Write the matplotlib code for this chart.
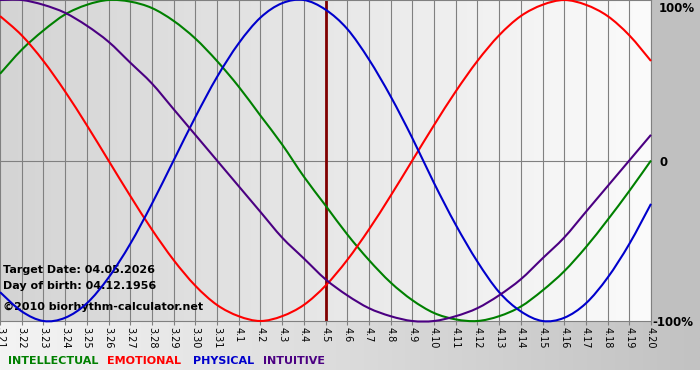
import matplotlib.pyplot as plt
import numpy as np
from matplotlib import font_manager
from matplotlib.colors import LinearSegmentedColormap
from matplotlib.patches import Rectangle, PathPatch
from matplotlib.path import Path

days = ['3.21', '3.22', '3.23', '3.24', '3.25', '3.26', '3.27', '3.28', '3.29', '3.30', '3.31',
        '4.1', '4.2', '4.3', '4.4', '4.5', '4.6', '4.7', '4.8', '4.9', '4.10',
        '4.11', '4.12', '4.13', '4.14', '4.15', '4.16', '4.17', '4.18', '4.19', '4.20']
target_day = '4.5'

physical = [-0.82, -0.94, -1.00, -0.98, -0.89, -0.73, -0.52, -0.27, 0.00, 0.27, 0.52,
            0.73, 0.89, 0.98, 1.00, 0.94, 0.82, 0.63, 0.40, 0.14, -0.14,
            -0.40, -0.63, -0.82, -0.94, -1.00, -0.98, -0.89, -0.73, -0.52, -0.27]
emotional = [0.90, 0.78, 0.62, 0.43, 0.22, 0.00, -0.22, -0.43, -0.62, -0.78, -0.90,
             -0.97, -1.00, -0.97, -0.90, -0.78, -0.62, -0.43, -0.22, 0.00, 0.22,
             0.43, 0.62, 0.78, 0.90, 0.97, 1.00, 0.97, 0.90, 0.78, 0.62]
intellectual = [0.54, 0.69, 0.81, 0.91, 0.97, 1.00, 0.99, 0.95, 0.87, 0.76, 0.62,
                0.46, 0.28, 0.10, -0.10, -0.28, -0.46, -0.62, -0.76, -0.87, -0.95,
                -0.99, -1.00, -0.97, -0.91, -0.81, -0.69, -0.54, -0.37, -0.19, 0.00]
intuitive = [1.00, 1.00, 0.97, 0.92, 0.84, 0.74, 0.61, 0.48, 0.32, 0.16, 0.00,
             -0.16, -0.32, -0.48, -0.61, -0.74, -0.84, -0.92, -0.97, -1.00, -1.00,
             -0.97, -0.92, -0.84, -0.74, -0.61, -0.48, -0.32, -0.16, 0.00, 0.16]

series = [('INTELLECTUAL', intellectual, '#008000'),
          ('EMOTIONAL', emotional, '#ff0000'),
          ('PHYSICAL', physical, '#0000cc'),
          ('INTUITIVE', intuitive, '#4b0082')]

names = {f.name for f in font_manager.fontManager.ttflist}
tick_font = 'Liberation Sans Narrow' if 'Liberation Sans Narrow' in names else 'DejaVu Sans'


def smooth_path(xs, ys):
    # catmull-rom through the points, drawn as cubic bezier segments
    pts = np.column_stack([xs, ys]).astype(float)
    ext = np.vstack([pts[0], pts, pts[-1]])
    verts = [pts[0]]
    codes = [Path.MOVETO]
    for i in range(len(pts) - 1):
        p0, p1, p2, p3 = ext[i], ext[i + 1], ext[i + 2], ext[i + 3]
        verts += [p1 + (p2 - p0) / 6, p2 - (p3 - p1) / 6, p2]
        codes += [Path.CURVE4] * 3
    return Path(verts, codes)


W, H = 700, 380
fig = plt.figure(figsize=(7, 3.8), dpi=100)
fig.patch.set_facecolor('white')

# background: grey band under the plot and grey column on the right
bg = fig.add_axes([0, 0, 1, 1], zorder=-1)
bg.set_xlim(0, W)
bg.set_ylim(0, H)
bg.axis('off')
band_cmap = LinearSegmentedColormap.from_list('band', ['#f4f4f4', '#c2c2c2'])
bg.imshow(np.linspace(0, 1, 256).reshape(1, -1), extent=[0, W, 10, 59],
          cmap=band_cmap, aspect='auto')
bg.add_patch(Rectangle((651, 59), 49, 321, color='#c0c0c0', lw=0))

ax = fig.add_axes([0, 59 / H, 651 / W, 321 / H])
x = np.arange(len(days))
plot_cmap = LinearSegmentedColormap.from_list('plot', ['#d4d4d4', '#fbfbfb'])
ax.imshow(np.linspace(0, 1, 256).reshape(1, -1), extent=[0, len(days) - 1, -1, 1],
          cmap=plot_cmap, aspect='auto', zorder=0)
ax.set_xlim(0, len(days) - 1)
ax.set_ylim(-1, 1)

ax.set_xticks(x)
ax.set_xticklabels(days, rotation=-90, fontsize=7, family=tick_font)
ax.tick_params(axis='x', length=3, color='#808080', pad=1)
ax.set_yticks([])
ax.grid(axis='x', color='#808080', lw=0.8, zorder=1)
ax.axhline(0, color='#808080', lw=0.8, zorder=1)
for side in ['top', 'bottom', 'right']:
    ax.spines[side].set_color('#808080')
    ax.spines[side].set_linewidth(0.8)
ax.spines['left'].set_visible(False)

ax.axvline(days.index(target_day), color='#800000', lw=2, zorder=2)

# info text sits under the curves
info = ['Target Date: 04.05.2026', 'Day of birth: 04.12.1956', '\u00a92010 biorhythm-calculator.net']
for txt, ypix in zip(info, [270, 286, 307]):
    ax.text(3 / W, 1 - ypix / H, txt, transform=fig.transFigure, fontsize=8,
            weight='bold', va='center', ha='left', zorder=3)

for name, vals, color in series:
    ax.add_patch(PathPatch(smooth_path(x, vals), facecolor='none', edgecolor=color,
                           lw=1.5, zorder=4, clip_on=False))

for txt, xpix, ypix in [('100%', 659, 8), ('0', 659, 162), ('-100%', 652, 322)]:
    fig.text(xpix / W, 1 - ypix / H, txt, fontsize=8.5, weight='bold', va='center', ha='left')

for (name, vals, color), xpix in zip(series, [8, 107, 193, 263]):
    fig.text(xpix / W, 1 - 361 / H, name, color=color, fontsize=8, weight='bold',
             va='center', ha='left')

fig.savefig('out.png', dpi=100)
